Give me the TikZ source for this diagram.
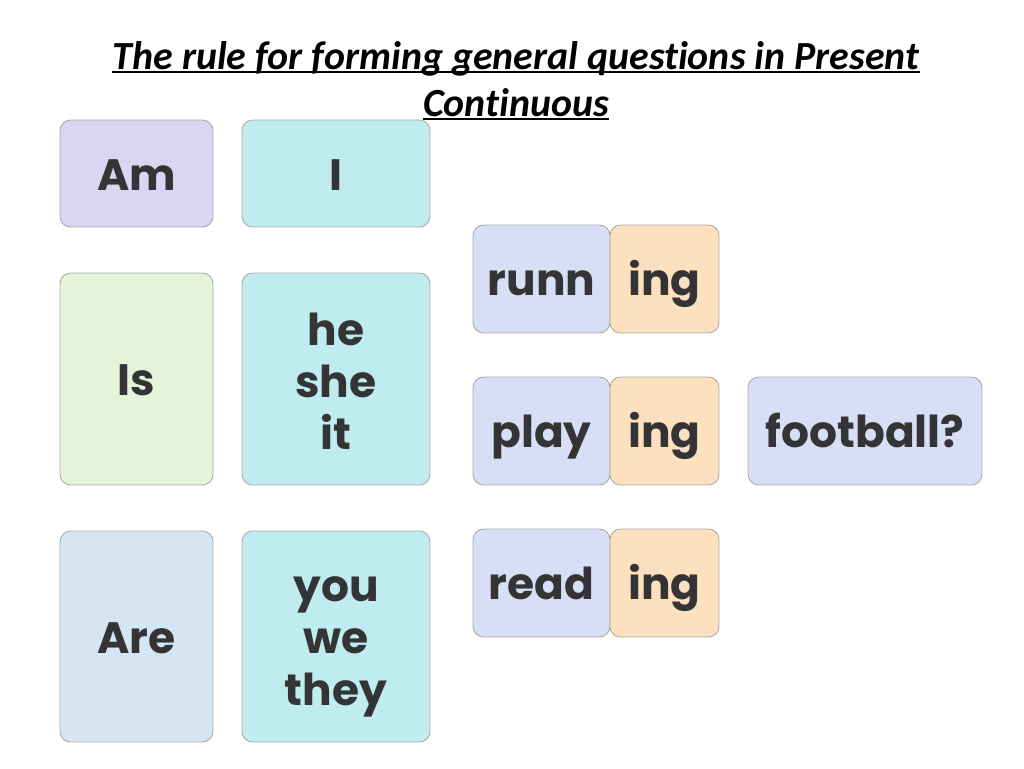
\documentclass[tikz,border=0pt]{standalone}
\usepackage{fontspec}
\setmainfont{Carlito}[Ligatures=CommonOff]
\newfontfamily\cardfont{Poppins}
\usepackage{tikz}
\definecolor{lilita}{RGB}{218,213,242}
\definecolor{celeste}{RGB}{191,236,238}
\definecolor{verdecito}{RGB}{229,243,216}
\definecolor{azulito}{RGB}{213,230,242}
\definecolor{lavanda}{RGB}{216,222,245}
\definecolor{durazno}{RGB}{253,224,189}
\definecolor{bordecito}{RGB}{170,170,170}
\definecolor{tinta}{RGB}{52,52,54}
\tikzset{card/.style={draw=bordecito, line width=0.5pt, fill=#1, rounded corners=6pt, inner sep=0pt, align=center, text=tinta, font=\cardfont\bfseries\fontsize{25}{29.5}\selectfont}}
\tikzset{word/.style={card=#1, text height=19pt, text depth=0pt}}
\tikzset{pronouns/.style={card=white, draw=none, fill=none}}
\tikzset{titleline/.style={anchor=base, inner sep=0pt, font=\bfseries\itshape\fontsize{22.7}{27}\selectfont}}
\tikzset{x=0.02cm, y=-0.02cm}

\begin{document}
\begin{tikzpicture}
		 \fill[white] (0,0) rectangle (1024,768);
		 \node[titleline] (titleA) at (516,69) {The rule for forming general questions in Present};
		 \node[titleline] (titleB) at (516,116) {Continuous};
		 \draw[line width=1.1pt] ([yshift=-1.5pt]titleA.base west) -- ([yshift=-1.5pt]titleA.base east);
		 \draw[line width=1.1pt] ([yshift=-1.5pt]titleB.base west) -- ([yshift=-1.5pt]titleB.base east);
		 
		 % left column
		 \node[word=lilita, minimum width=3.06cm, minimum height=2.14cm] (am) at (136.5,173.5) {Am};
		 \node[word=verdecito, minimum width=3.06cm, minimum height=4.24cm] (is) at (136.5,379) {Is};
		 \node[word=azulito, minimum width=3.06cm, minimum height=4.22cm] (are) at (136.5,636.5) {Are};
		 
		 \node[word=celeste, minimum width=3.76cm, minimum height=2.14cm] (i) at (336,173.5) {I};
		 \node[card=celeste, minimum width=3.76cm, minimum height=4.24cm] (hesheit) at (336,379) {};
		 \node[pronouns, yshift=-1.2pt] (hesheitText) at (hesheit) {he\\she\\it};
		 \node[card=celeste, minimum width=3.76cm, minimum height=4.22cm] (youwethey) at (336,636.5) {};
		 \node[pronouns, yshift=-6pt] (youwetheyText) at (youwethey) {you\\we\\they};
		 
		 % verbs
		 \node[word=lavanda, minimum width=2.74cm, minimum height=2.16cm] (runn) at (541.5,279) {runn};
		 \node[word=durazno, minimum width=2.18cm, minimum height=2.16cm] (ingA) at (664.5,279) {ing};
		 \node[word=lavanda, minimum width=2.74cm, minimum height=2.16cm] (play) at (541.5,431) {play};
		 \node[word=durazno, minimum width=2.18cm, minimum height=2.16cm] (ingB) at (664.5,431) {ing};
		 \node[word=lavanda, minimum width=2.74cm, minimum height=2.16cm] (read) at (541.5,583) {read};
		 \node[word=durazno, minimum width=2.18cm, minimum height=2.16cm] (ingC) at (664.5,583) {ing};
		 
		 \node[word=lavanda, minimum width=4.68cm, minimum height=2.16cm] (football) at (865,431) {football?};
\end{tikzpicture}
\end{document}
